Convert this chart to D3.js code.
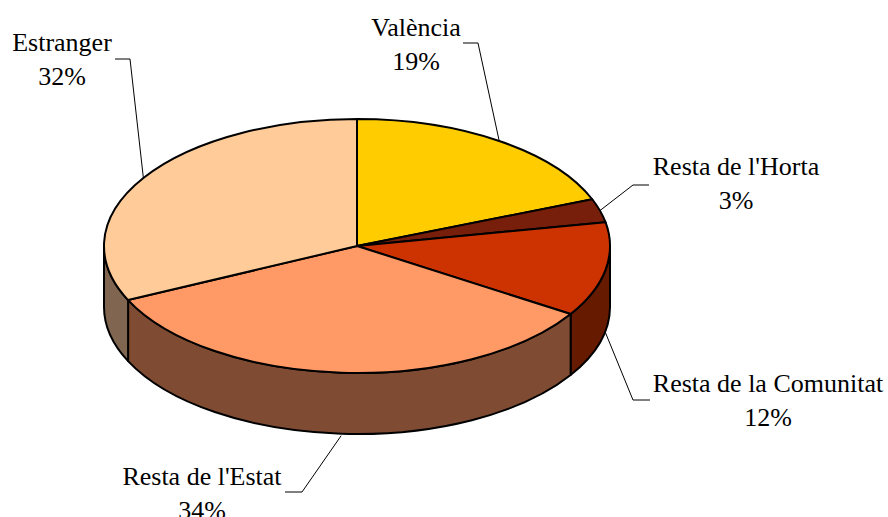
<!DOCTYPE html>
<html>
<head>
<meta charset="utf-8">
<script src="https://cdn.jsdelivr.net/npm/d3@7"></script>
<style>
  body { margin: 0; background: #fff; }
</style>
</head>
<body>
<div id="chart"></div>
<script>
// data
const categories = ["València", "Resta de l'Horta", "Resta de la Comunitat", "Resta de l'Estat", "Estranger"];
const values = [19, 3, 12, 34, 32];
const pctLabels = ["19%", "3%", "12%", "34%", "32%"];

const topColors = ["#FFCC00", "#771F0A", "#CC3300", "#FF9966", "#FFCC99"];
const sideColors = ["#806600", "#3D1005", "#661A00", "#7F4C33", "#806650"];

// label layout: text centre x, first baseline y, elbow x, elbow y, end x
const labelLayout = [
  { tx: 416, ty: 36, ex: 478, ey: 43, hx: 463, side: 'top' },
  { tx: 736, ty: 175, ex: 633, ey: 185, hx: 649, side: 'top' },
  { tx: 768, ty: 392, ex: 633, ey: 400, hx: 650, side: 'bottom' },
  { tx: 202, ty: 485, ex: 302, ey: 492, hx: 285, side: 'bottom' },
  { tx: 62, ty: 51, ex: 130, ey: 59, hx: 115, side: 'top' }
];

const width = 888;
const height = 517;
const cx = 357;
const cy = 246;
const rx = 253;
const ry = 127;
const depth = 61;

const svg = d3.select('#chart')
    .append('svg')
    .attr('width', width)
    .attr('height', height);

const pie = d3.pie().sort(null).value(d => d);
const arcs = pie(values);

// projected point on the top ellipse (angle clockwise from 12 o'clock)
const pt = (a, dy = 0) => [cx + rx * Math.sin(a), cy - ry * Math.cos(a) + dy];

function topPath(d) {
    const p0 = pt(d.startAngle);
    const p1 = pt(d.endAngle);
    const large = d.endAngle - d.startAngle > Math.PI ? 1 : 0;
    return 'M' + cx + ',' + cy + 'L' + p0 + 'A' + rx + ',' + ry + ' 0 ' + large + ' 1 ' + p1 + 'Z';
}

function sidePath(d) {
    const s = Math.max(d.startAngle, Math.PI / 2);
    const e = Math.min(d.endAngle, 3 * Math.PI / 2);
    if (e <= s) return null;
    const a = pt(s), b = pt(e), b2 = pt(e, depth), a2 = pt(s, depth);
    return 'M' + a + 'A' + rx + ',' + ry + ' 0 0 1 ' + b +
        'L' + b2 + 'A' + rx + ',' + ry + ' 0 0 0 ' + a2 + 'Z';
}

//side walls
svg.selectAll('path.side')
    .data(arcs.filter(d => sidePath(d)))
    .enter()
    .append('path')
    .classed('side', true)
    .attr('d', sidePath)
    .attr('fill', d => sideColors[d.index])
    .attr('stroke', '#000')
    .attr('stroke-width', 2)
    .attr('stroke-linejoin', 'round');

//top faces
svg.selectAll('path.top')
    .data(arcs)
    .enter()
    .append('path')
    .classed('top', true)
    .attr('d', topPath)
    .attr('fill', d => topColors[d.index])
    .attr('stroke', '#000')
    .attr('stroke-width', 2)
    .attr('stroke-linejoin', 'round');

//leader lines
svg.selectAll('polyline.leader')
    .data(arcs)
    .enter()
    .append('polyline')
    .classed('leader', true)
    .attr('fill', 'none')
    .attr('stroke', '#000')
    .attr('stroke-width', 1)
    .attr('points', d => {
        const L = labelLayout[d.index];
        const mid = (d.startAngle + d.endAngle) / 2;
        const anchor = L.side === 'bottom' ? pt(mid, depth + 2) : pt(mid);
        return [anchor, [L.ex, L.ey], [L.hx, L.ey]].map(p => p.join(',')).join(' ');
    });

//labels: category name, then percentage below
const labelLines = [
    { text: d => categories[d.index], dy: 0 },
    { text: d => pctLabels[d.index], dy: 34 }
];

labelLines.forEach((line, k) => {
    svg.selectAll('text.label-' + k)
        .data(arcs)
        .enter()
        .append('text')
        .classed('label-' + k, true)
        .attr('x', d => labelLayout[d.index].tx)
        .attr('y', d => labelLayout[d.index].ty + line.dy)
        .attr('font-size', 26)
        .style('font-family', "'Liberation Serif'")
        .attr('fill', '#000')
        .attr('text-anchor', 'middle')
        .text(line.text);
});
</script>
</body>
</html>
